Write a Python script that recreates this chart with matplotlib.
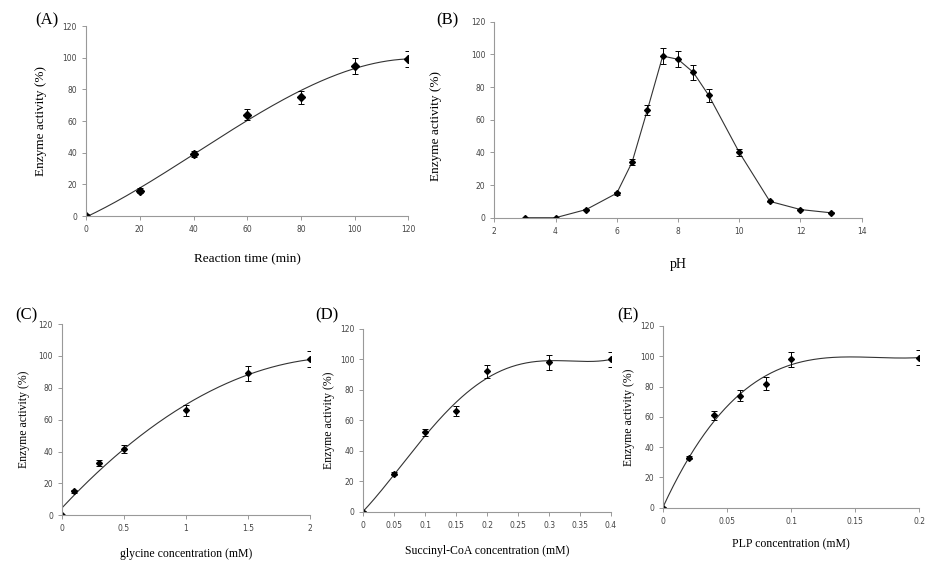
import numpy as np
import matplotlib
matplotlib.use("Agg")
import matplotlib.pyplot as plt

plt.rcParams['font.family'] = ['Liberation Serif', 'DejaVu Serif']

# (A) reaction time
time_min = [0, 20, 40, 60, 80, 100, 120]
time_act = [0, 16, 39, 64, 75, 95, 99]
time_err = [1, 1.5, 2, 3.5, 4, 5, 5]

# (B) pH
ph = [3, 4, 5, 6, 6.5, 7, 7.5, 8, 8.5, 9, 10, 11, 12, 13]
ph_act = [0, 0, 5, 15, 34, 66, 99, 97, 89, 75, 40, 10, 5, 3]
ph_err = [0, 0, 0.5, 1, 2, 3, 5, 5, 4.5, 4, 2, 0.5, 0.3, 0.3]

# (C) glycine
gly = [0, 0.1, 0.3, 0.5, 1, 1.5, 2]
gly_act = [0, 15, 33, 41.5, 66, 89, 98]
gly_err = [0.5, 1, 2, 2.5, 3.5, 4.5, 5]

# (D) succinyl-CoA
suc = [0, 0.05, 0.1, 0.15, 0.2, 0.3, 0.4]
suc_act = [0, 25, 52, 66, 92, 98, 100]
suc_err = [0.5, 1, 2.5, 3, 4.5, 5, 5]

# (E) PLP
plp = [0, 0.02, 0.04, 0.06, 0.08, 0.1, 0.2]
plp_act = [0, 33, 61, 74, 82, 98, 99]
plp_err = [0.5, 1, 3, 3.5, 4, 5, 5]

fig = plt.figure(figsize=(9.33, 5.63), dpi=100)

def style(ax, xlim, xticks, xticklabels):
    for s in ['top', 'right']:
        ax.spines[s].set_visible(False)
    for s in ['left', 'bottom']:
        ax.spines[s].set_color('#999999')
        ax.spines[s].set_linewidth(0.8)
    ax.set_xlim(*xlim)
    ax.set_ylim(0, 120)
    ax.set_yticks(range(0, 121, 20))
    ax.set_xticks(xticks)
    ax.set_xticklabels(xticklabels)
    ax.tick_params(labelsize=5.5, colors='#999999', labelcolor='#444444',
                   length=3, width=0.7, direction='out')
    for t in ax.get_xticklabels() + ax.get_yticklabels():
        t.set_family('DejaVu Sans')

def trend(ax, x, y, deg, x0, x1):
    c = np.polyfit(x, y, deg)
    xs = np.linspace(x0, x1, 200)
    ax.plot(xs, np.polyval(c, xs), color='#333333', lw=0.8)

def points(ax, x, y, e, ms, marker='D'):
    ax.errorbar(x, y, yerr=e, fmt=marker, color='black', ms=ms,
                ecolor='black', elinewidth=0.7, capsize=2, capthick=0.7)

# A
axA = fig.add_axes([0.0922, 0.6163, 0.3456, 0.3375])
style(axA, (0, 120), range(0, 121, 20), [str(v) for v in range(0, 121, 20)])
trend(axA, time_min, time_act, 3, 0, 120)
points(axA, time_min, time_act, time_err, 4)
axA.set_xlabel('Reaction time (min)', fontsize=9.5)
axA.set_ylabel('Enzyme activity (%)', fontsize=9.5)
axA.xaxis.set_label_coords(0.5, -0.195)
axA.yaxis.set_label_coords(-0.121, 0.5)

# B
axB = fig.add_axes([0.5298, 0.6133, 0.3938, 0.3481])
style(axB, (2, 14), range(2, 15, 2), [str(v) for v in range(2, 15, 2)])
axB.plot(ph, ph_act, color='#333333', lw=0.8)
points(axB, ph, ph_act, ph_err, 3)
axB.set_xlabel('pH', fontsize=10)
axB.set_ylabel('Enzyme activity (%)', fontsize=9.5)
axB.xaxis.set_label_coords(0.5, -0.206)
axB.yaxis.set_label_coords(-0.143, 0.47)

# C
axC = fig.add_axes([0.0665, 0.0847, 0.2658, 0.3398])
style(axC, (0, 2), [0, 0.5, 1, 1.5, 2], ['0', '0.5', '1', '1.5', '2'])
trend(axC, gly, gly_act, 2, 0, 2)
points(axC, gly, gly_act, gly_err, 3)
axC.set_xlabel('glycine concentration (mM)', fontsize=8.5)
axC.set_ylabel('Enzyme activity (%)', fontsize=8.5)
axC.xaxis.set_label_coords(0.5, -0.17)
axC.yaxis.set_label_coords(-0.129, 0.5)

# D
axD = fig.add_axes([0.3894, 0.0911, 0.2655, 0.3251])
dt = [0, 0.05, 0.1, 0.15, 0.2, 0.25, 0.3, 0.35, 0.4]
style(axD, (0, 0.4), dt, ['0', '0.05', '0.1', '0.15', '0.2', '0.25', '0.3', '0.35', '0.4'])
trend(axD, suc, suc_act, 4, 0, 0.4)
points(axD, suc, suc_act, suc_err, 3)
axD.set_xlabel('Succinyl-CoA concentration (mM)', fontsize=8.5)
axD.set_ylabel('Enzyme activity (%)', fontsize=8.5)
axD.xaxis.set_label_coords(0.5, -0.182)
axD.yaxis.set_label_coords(-0.114, 0.5)

# E
axE = fig.add_axes([0.7109, 0.0982, 0.2744, 0.3228])
style(axE, (0, 0.2), [0, 0.05, 0.1, 0.15, 0.2], ['0', '0.05', '0.1', '0.15', '0.2'])
trend(axE, plp, plp_act, 3, 0, 0.2)
points(axE, plp, plp_act, plp_err, 3)
axE.set_xlabel('PLP concentration (mM)', fontsize=8.5)
axE.set_ylabel('Enzyme activity (%)', fontsize=8.5)
axE.xaxis.set_label_coords(0.5, -0.167)
axE.yaxis.set_label_coords(-0.11, 0.5)

# panel letters
for lab, px, py in [('(A)', 47, 20), ('(B)', 447, 20), ('(C)', 26, 315),
                    ('(D)', 327, 315), ('(E)', 628, 315)]:
    fig.text(px / 933, 1 - py / 563, lab, fontsize=12, ha='center', va='center')

fig.savefig('out.png', dpi=100)
